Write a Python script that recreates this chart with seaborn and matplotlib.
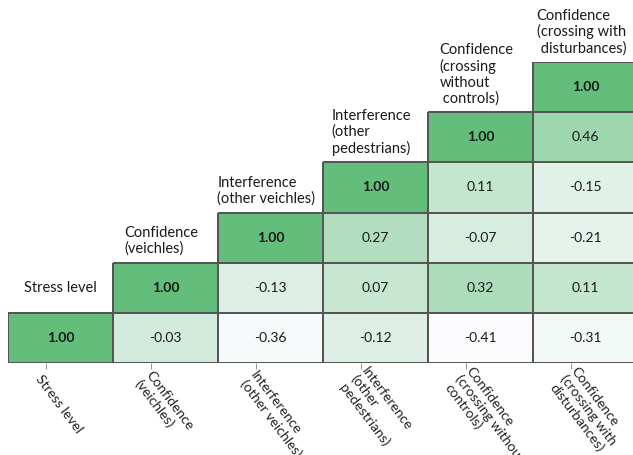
import numpy as np
import seaborn as sns
import matplotlib.pyplot as plt
from matplotlib.colors import LinearSegmentedColormap, to_rgba
from matplotlib.transforms import ScaledTranslation

# Variable names: labels drawn above each diagonal cell, and along the bottom axis
row_labels = [
    "Stress level",
    "Confidence\n(veichles)",
    "Interference\n(other veichles)",
    "Interference\n(other\npedestrians)",
    "Confidence\n(crossing\nwithout\n controls)",
    "Confidence\n(crossing with\n disturbances)",
]
tick_labels = [
    "Stress level",
    "Confidence\n(veichles)",
    "Interference\n(other veichles)",
    "Interference\n(other\npedestrians)",
    "Confidence\n(crossing without\ncontrols)",
    "Confidence\n(crossing with\ndisturbances)",
]

# Correlations of each variable with itself and the variables to its right
stress_level = [1.00, -0.03, -0.36, -0.12, -0.41, -0.31]
confidence_vehicles = [1.00, -0.13, 0.07, 0.32, 0.11]
interference_vehicles = [1.00, 0.27, -0.07, -0.21]
interference_pedestrians = [1.00, 0.11, -0.15]
confidence_without_controls = [1.00, 0.46]
confidence_with_disturbances = [1.00]

rows = [stress_level, confidence_vehicles, interference_vehicles,
        interference_pedestrians, confidence_without_controls,
        confidence_with_disturbances]

n = len(rows)
matrix = np.full((n, n), np.nan)
for k, vals in enumerate(rows):
    matrix[n - 1 - k, k:] = vals
mask = np.isnan(matrix)

sns.set_theme(style="white")
plt.rcParams["font.family"] = ["Lato", "DejaVu Sans"]

cmap = LinearSegmentedColormap.from_list("excel_green", ["#FCFCFF", "#63BE7B"])
vals_all = np.concatenate([np.array(r) for r in rows])

fig = plt.figure(figsize=(6.33, 4.55), dpi=100)
ax = fig.add_axes([8 / 633, 92 / 455, 630 / 633, 301 / 455])

sns.heatmap(matrix, mask=mask, cmap=cmap, vmin=vals_all.min(), vmax=vals_all.max(),
            annot=True, fmt=".2f", cbar=False, linewidths=1.2, linecolor="#555555",
            annot_kws=dict(size=10, color="#1a1a1a"), ax=ax)

# Only the filled cells get a border
mesh = ax.collections[0]
edges = np.array([to_rgba("#555555")] * (n * n))
edges[mask.ravel()] = (0, 0, 0, 0)
mesh.set_edgecolor(edges)

for t in ax.texts:
    if t.get_text() == "1.00":
        t.set_fontweight("bold")

# Variable names sitting above each diagonal cell
for k, lab in enumerate(row_labels):
    top_of_diag = n - 1 - k
    if "\n" in lab:
        ax.text(k + 0.46, top_of_diag - 0.13, lab, ha="center", va="bottom",
                multialignment="left", fontsize=10.5, color="#1a1a1a",
                linespacing=1.15, clip_on=False)
    else:
        ax.text(k + 0.5, top_of_diag - 0.5, lab, ha="center", va="center",
                fontsize=10.5, color="#1a1a1a", clip_on=False)

# Bottom axis: rotated variable names
ax.set_yticks([])
ax.set_xticks(np.arange(n) + 0.5 - 0.14)
ax.set_xticklabels(tick_labels, rotation=-53, ha="left", va="center",
                   rotation_mode="anchor", fontsize=10, color="#222222",
                   linespacing=1.1)
ax.tick_params(axis="x", bottom=True, length=4, width=0.8, color="#999999",
               pad=6)
shift = ScaledTranslation(-8 / 100, 0, fig.dpi_scale_trans)
for lbl in ax.get_xticklabels():
    lbl.set_transform(lbl.get_transform() + shift)

for s in ax.spines.values():
    s.set_visible(False)

fig.savefig("out.png", dpi=100)
